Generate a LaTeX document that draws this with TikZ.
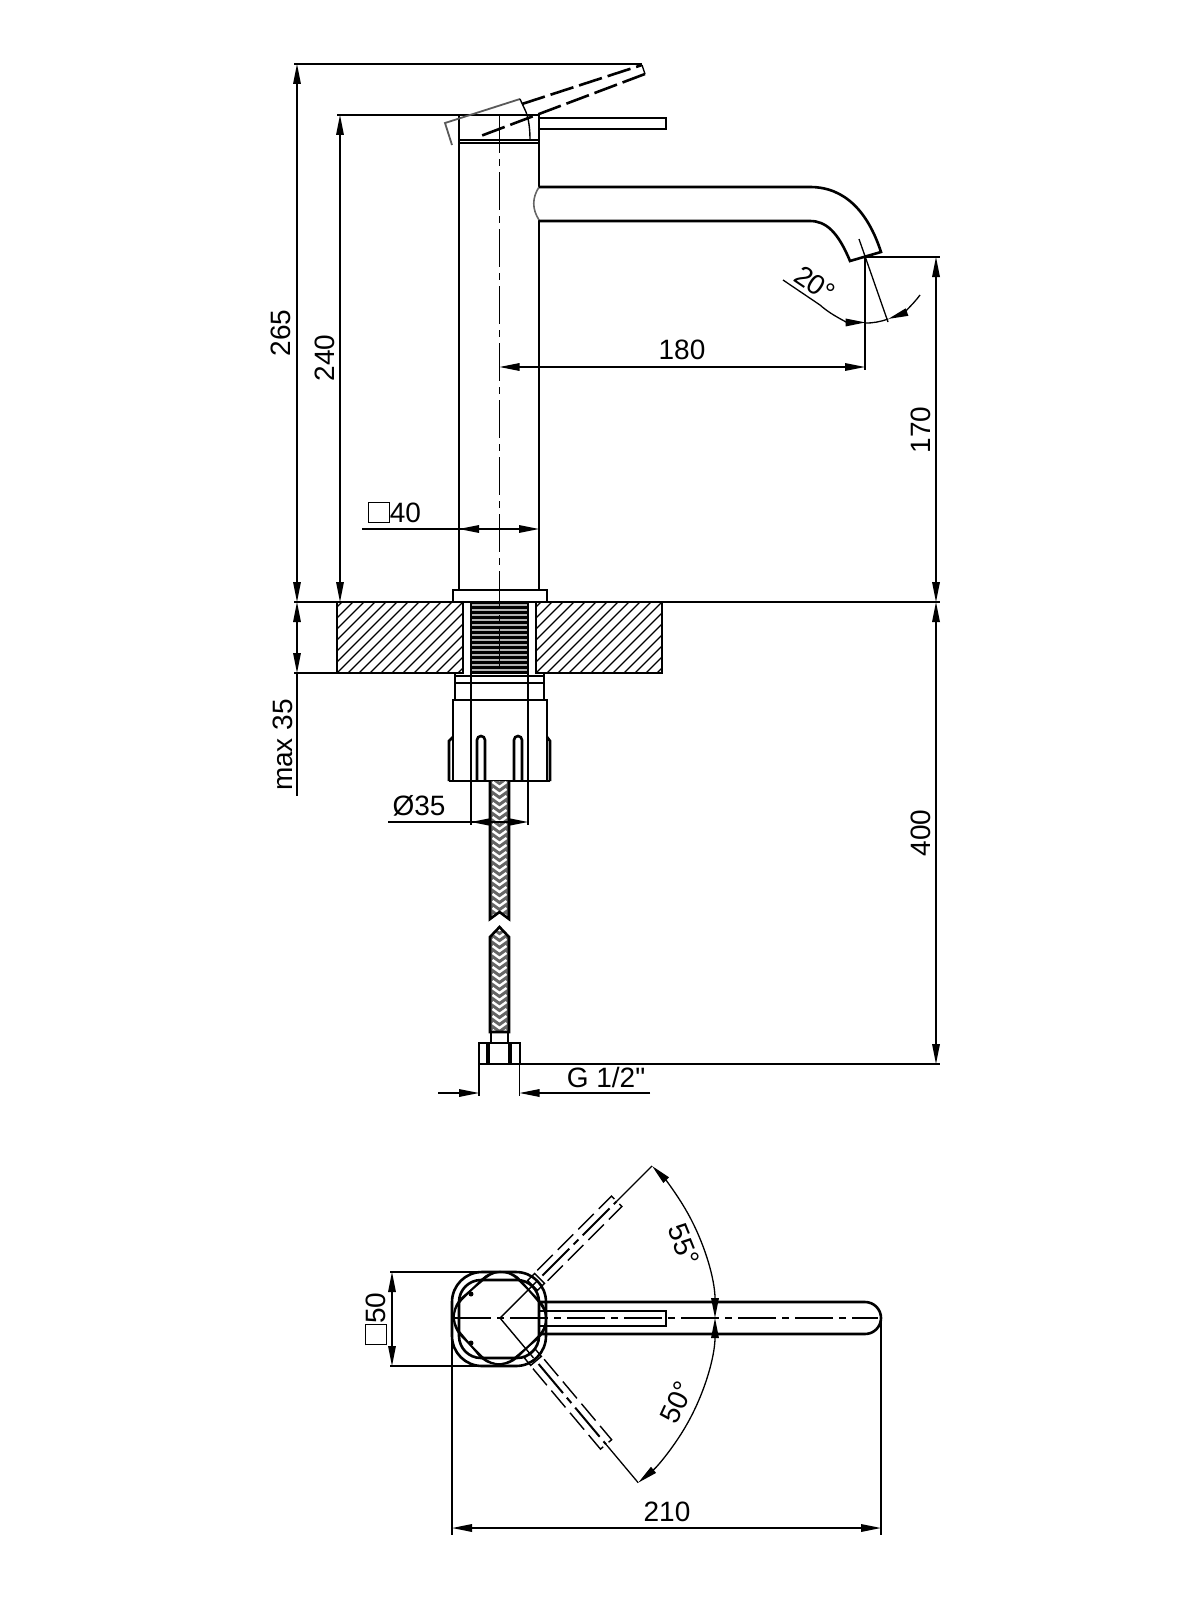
\documentclass[tikz,border=0pt]{standalone}
\usepackage{fontspec}
\setmainfont{Liberation Sans}
\newfontfamily\plainfont{Liberation Sans}
\usetikzlibrary{arrows.meta}
\newcommand{\sqsign}{{\setlength{\fboxsep}{0pt}\setlength{\fboxrule}{0.45pt}\fbox{\rule{0pt}{9.8pt}\rule{9.8pt}{0pt}}}}
\tikzset{
  part/.style={line width=1.3pt},
  fine/.style={line width=0.7pt},
  dimline/.style={line width=0.65pt, {Stealth[inset=0pt,length=10pt,width=3.8pt]}-{Stealth[inset=0pt,length=10pt,width=3.8pt]}},
  extline/.style={line width=0.65pt},
  axis/.style={line width=0.65pt, dash pattern=on 19pt off 3pt on 3.5pt off 3pt},
  hidden/.style={line width=0.7pt, dash pattern=on 11pt off 3.5pt},
  label/.style={font=\fontsize{14}{16}\selectfont, inner sep=0pt},
  hatch/.style={line width=0.6pt},
}
\begin{document}
\begin{tikzpicture}[x=0.5pt, y=-0.5pt, >={Stealth[inset=0pt,length=10pt,width=3.8pt]}]
    \useasboundingbox (0, 0) rectangle (1200, 1600);

    % column, cap and lever
    \draw[part] (459, 590) -- (459, 143) -- (539, 143) -- (539, 187);
    \draw[part] (539, 220) -- (539, 590);
    \draw[part] (459, 115) rectangle (539, 140);
    \draw[part] (459, 143) -- (459, 140) (539, 143) -- (539, 140);
    \draw[part] (539, 118) -- (666, 118) -- (666, 129) -- (539, 129);
    \draw[line width=0.8pt, black!60] (539, 187) .. controls (532, 198) and (532, 209) .. (539, 220);

    % lever raised
    \draw[line width=0.9pt, black!65] (452, 145) -- (445, 123) -- (520, 99);
    \draw[fine] (520, 99) -- (526, 112) .. controls (529, 120) and (530, 130) .. (530, 140);
    \draw[part, dash pattern=on 12pt off 3pt] (522, 104) -- (642, 65);
    \draw[part, dash pattern=on 12pt off 3pt] (645, 74) -- (478, 137);
    \draw[fine] (642, 65) -- (645, 74);

    % spout
    \draw[part] (539, 187) -- (810, 187) .. controls (845, 187) and (868, 212) .. (881, 252)
        -- (850, 261) .. controls (838, 232) and (826, 221) .. (810, 221) -- (539, 221);

    % worktop
    \foreach \c in {260, 271, ..., 460} {
        \begin{scope}
            \clip (337, 602) rectangle (463, 673);
            \draw[hatch] (\c, 673) -- (\c + 71, 602);
        \end{scope}
    }
    \foreach \c in {470, 481, ..., 670} {
        \begin{scope}
            \clip (536, 602) rectangle (662, 673);
            \draw[hatch] (\c, 673) -- (\c + 71, 602);
        \end{scope}
    }
    \draw[part] (337, 602) rectangle (463, 673);
    \draw[part] (536, 602) -- (662, 602) -- (662, 673) -- (536, 673) -- cycle;
    \draw[part] (453, 602) -- (453, 590) -- (547, 590) -- (547, 602) -- cycle;

    % thread
    \fill[black!30] (471, 602) rectangle (528, 673);
    \foreach \y in {602, 607, ..., 672} {
        \draw[line width=1.5pt] (471, \y) -- (528, \y);
    }
    \draw[part] (471, 602) -- (471, 673) (528, 602) -- (528, 673);

    % fixing nut
    \draw[part] (455, 673) -- (455, 700) (544, 673) -- (544, 700);
    \draw[fine] (455, 676) -- (544, 676);
    \draw[part] (455, 683) -- (544, 683);
    \draw[part] (453, 781) -- (453, 700) -- (547, 700) -- (547, 781);
    \draw[part] (449, 781) -- (550, 781);
    \draw[part] (449, 781) -- (449, 741) -- (453, 737);
    \draw[part] (550, 781) -- (550, 741) -- (547, 737);
    \draw[part] (477, 781) -- (477, 740) arc[start angle=180, end angle=360, radius=4] -- (485, 781);
    \draw[part] (514, 781) -- (514, 740) arc[start angle=180, end angle=360, radius=4] -- (522, 781);

    % hose
    \begin{scope}
        \clip (490, 781) -- (509, 781) -- (509, 919) -- (499.5, 912) -- (490, 919) -- cycle;
        \fill[black!60] (485, 781) rectangle (515, 920);
        \foreach \y in {775, 782, ..., 915} {
            \draw[white, line width=1.2pt] (492.5, \y) -- (499.5, \y + 5) -- (506.5, \y);
        }
    \end{scope}
    \draw[part] (490, 781) -- (490, 919) -- (499.5, 912) -- (509, 919) -- (509, 781);
    \begin{scope}
        \clip (499.5, 927) -- (509, 937) -- (509, 1032) -- (490, 1032) -- (490, 937) -- cycle;
        \fill[black!60] (485, 925) rectangle (515, 1032);
        \foreach \y in {925, 932, ..., 1030} {
            \draw[white, line width=1.2pt] (492.5, \y) -- (499.5, \y + 5) -- (506.5, \y);
        }
    \end{scope}
    \draw[part] (499.5, 927) -- (509, 937) -- (509, 1032) -- (490, 1032) -- (490, 937) -- cycle;
    \draw[fine] (491, 1032) -- (491, 1043) (508, 1032) -- (508, 1043);
    \draw[part] (479, 1043) rectangle (520, 1064);
    \draw[line width=1.7pt] (488, 1043) -- (488, 1064) (510, 1043) -- (510, 1064);

    % axis of the column
    \draw[axis] (499.5, 115) -- (499.5, 673);

    % heights on the left
    \draw[extline] (294, 64) -- (642, 64);
    \draw[extline] (337, 115) -- (459, 115);
    \draw[extline] (294, 602) -- (337, 602);
    \draw[extline] (294, 673) -- (337, 673);
    \draw[dimline] (297, 64) -- (297, 602);
    \draw[dimline] (340, 115) -- (340, 602);
    \draw[dimline] (297, 602) -- (297, 673);
    \draw[extline] (297, 673) -- (297, 796);
    \node[label, rotate=90] (lbl265) at (281, 333) {265};
    \node[label, rotate=90] (lbl240) at (325, 358) {240};
    \node[label, rotate=90] (lblmax) at (283, 745) {max 35};

    % heights on the right
    \draw[extline] (865, 257) -- (940, 257);
    \draw[extline] (662, 602) -- (940, 602);
    \draw[extline] (520, 1064) -- (940, 1064);
    \draw[dimline] (936, 257) -- (936, 602);
    \draw[dimline] (936, 602) -- (936, 1064);
    \node[label, rotate=90] (lbl170) at (921, 430) {170};
    \node[label, rotate=90] (lbl400) at (921, 833) {400};

    % reach and outlet angle
    \draw[extline] (865, 257) -- (865, 370);
    \draw[dimline] (499.5, 367) -- (865, 367);
    \node[label] (lbl180) at (682, 350) {180};
    \draw[extline] (859, 239) -- (888, 322);
    \draw[extline, ->] (783, 280) -- (820, 305) arc[start angle=132, end angle=90, radius=68];
    \draw[extline, ->] (920, 295) arc[start angle=36, end angle=70, radius=68];
    \draw[extline] (888.2, 319) arc[start angle=70, end angle=90, radius=68];
    \node[label, rotate=-34] (lbl20) at (815, 284) {20°};

    % column width
    \draw[extline] (362, 529) -- (499.5, 529);
    \draw[extline, ->] (499.5, 529) -- (459, 529);
    \draw[extline, ->] (499.5, 529) -- (539, 529);
    \node[label, anchor=base west] (lbl40) at (368, 522) {\sqsign 40};

    % hole diameter
    \draw[extline] (471, 673) -- (471, 825) (528, 673) -- (528, 825);
    \draw[extline] (388, 822) -- (499.5, 822);
    \draw[extline, ->] (499.5, 822) -- (471, 822);
    \draw[extline, ->] (499.5, 822) -- (528, 822);
    \node[label] (lbl35) at (419, 806) {Ø35};

    % connection
    \draw[extline] (479, 1064) -- (479, 1096) (519.5, 1064) -- (519.5, 1096);
    \draw[extline, ->] (438, 1093) -- (479, 1093);
    \draw[extline, ->] (650, 1093) -- (519.5, 1093);
    \node[label] (lblg) at (606, 1077) {\plainfont G 1/2"};

    % plan view
    \draw[part, rounded corners=15pt] (452, 1272) rectangle (546, 1366);
    \draw[part, rounded corners=11pt] (459, 1280) rectangle (539, 1358);
    \draw[part] (540, 1302) -- (865, 1302) arc[start angle=-90, end angle=90, radius=16] -- (540, 1334);
    \draw[part] (539, 1311) -- (666, 1311) -- (666, 1326) -- (539, 1326);
    \draw[fine] (540, 1302) .. controls (548, 1310) and (548, 1326) .. (540, 1334);
    \fill (471, 1294) circle[radius=2.5];
    \fill (471, 1343) circle[radius=2.5];
    \foreach \a in {45, -50} {
        \begin{scope}[shift={(500, 1318)}, rotate=\a]
            \draw[line width=0.9pt, rounded corners=12.5pt] (-40, -40) rectangle (40, 40);
            \draw[hidden] (60, -7.3) -- (165, -7.3) -- (165, 7.3) -- (60, 7.3);
            \draw[line width=1pt, dash pattern=on 19pt off 3pt on 3.5pt off 3pt] (60, 0) -- (165, 0);
            \draw[fine] (0, 0) -- (52, 0);
            \draw[fine] (46, -7) -- (56, -7) -- (56, 7) -- (46, 7) -- cycle;
            \draw[extline] (165, 0) -- (215, 0);
        \end{scope}
    }
    \draw[axis] (453, 1318) -- (878, 1318);

    % plan view dimensions
    \draw[extline, ->] (500, 1318) ++(-30:215) arc[start angle=-30, end angle=-45, radius=215];
    \draw[extline, ->] (500, 1318) ++(-30:215) arc[start angle=-30, end angle=0, radius=215];
    \draw[extline, ->] (500, 1318) ++(30:215) arc[start angle=30, end angle=0, radius=215];
    \draw[extline, ->] (500, 1318) ++(30:215) arc[start angle=30, end angle=50, radius=215];
    \node[label, rotate=-68] (lbl55) at (684, 1245) {55°};
    \node[label, rotate=65] (lbl50) at (677, 1402) {50°};

    \draw[extline] (390, 1272) -- (500, 1272) (390, 1366) -- (500, 1366);
    \draw[dimline] (392, 1272) -- (392, 1366);
    \node[label, rotate=90] (lbl50sq) at (376, 1319) {\sqsign 50};

    \draw[extline] (452, 1318) -- (452, 1535) (881, 1318) -- (881, 1535);
    \draw[dimline] (452, 1528) -- (881, 1528);
    \node[label] (lbl210) at (667, 1512) {210};
\end{tikzpicture}
\end{document}
